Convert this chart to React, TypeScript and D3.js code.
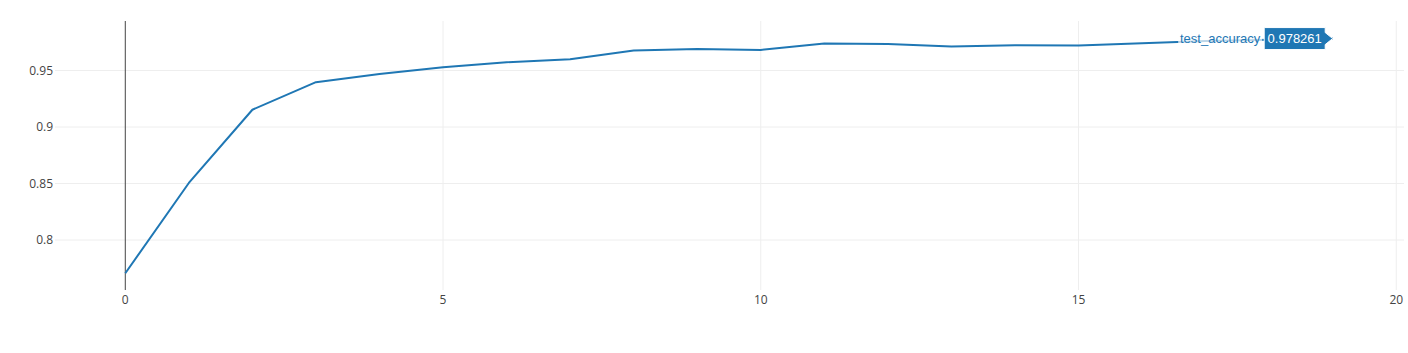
import React from "react";
import * as d3 from "d3";

const epochs = [0, 1, 2, 3, 4, 5, 6, 7, 8, 9, 10, 11, 12, 13, 14, 15, 16, 17, 18, 19];
const testAccuracy = [
  0.7706, 0.8505, 0.9153, 0.9397, 0.9469, 0.9529, 0.9573, 0.96, 0.9676, 0.9691,
  0.9682, 0.9738, 0.9735, 0.9712, 0.9723, 0.9721, 0.9741, 0.976, 0.9772, 0.978261,
];
const xTicks = [0, 5, 10, 15, 20];
const yTicks = [0.8, 0.85, 0.9, 0.95];
const seriesName = "test_accuracy";
const hoverIndex = 19;

const W = 1408;
const H = 353;
const left = 55;
const right = 1404;
const top = 21;
const bottom = 290;

export default function App() {
  const x = d3.scaleLinear().domain([-1.106, 20.122]).range([left, right]);
  const y = d3.scaleLinear().domain([0.7558, 0.9938]).range([bottom, top]);
  const pts = epochs.map((e, i) => [e, testAccuracy[i]] as [number, number]);
  const line = d3
    .line<[number, number]>()
    .x((d) => x(d[0]))
    .y((d) => y(d[1]));

  const hx = x(epochs[hoverIndex]);
  const hy = y(testAccuracy[hoverIndex]);
  const valText = String(testAccuracy[hoverIndex]);
  const boxW = 61;
  const boxH = 22;
  const arrow = 7.5;
  const bx1 = hx - arrow;
  const bx0 = bx1 - boxW;
  const by0 = hy - boxH / 2;
  const by1 = hy + boxH / 2;

  const tickFont = "'Open Sans', 'DejaVu Sans', sans-serif";
  const hoverFont = "Arial, 'Liberation Sans', sans-serif";

  return (
    <div style={{ position: "absolute", left: 0, top: 0 }}>
      <svg width={W} height={H} style={{ display: "block", background: "#fff" }}>
        {/* vertical grid */}
        {xTicks
          .filter((t) => t !== 0)
          .map((t) => (
            <line key={"vx" + t} x1={x(t)} x2={x(t)} y1={top} y2={bottom} stroke="#eee" strokeWidth={1} />
          ))}
        {/* horizontal grid */}
        {yTicks.map((t) => (
          <line key={"hy" + t} x1={left} x2={right} y1={y(t)} y2={y(t)} stroke="#eee" strokeWidth={1} />
        ))}
        {/* zero line */}
        <line x1={x(0)} x2={x(0)} y1={top} y2={bottom} stroke="#444" strokeWidth={1} />
        {/* x tick labels */}
        {xTicks.map((t) => (
          <text
            key={"xt" + t}
            x={x(t)}
            y={bottom + 14}
            textAnchor="middle"
            fontFamily={tickFont}
            fontSize={12}
            fill="#444"
          >
            {String(t)}
          </text>
        ))}
        {/* y tick labels */}
        {yTicks.map((t) => (
          <text
            key={"yt" + t}
            x={left - 2}
            y={y(t)}
            dy="0.35em"
            textAnchor="end"
            fontFamily={tickFont}
            fontSize={12}
            fill="#444"
          >
            {String(t)}
          </text>
        ))}
        {/* data line */}
        <path d={line(pts) || ""} fill="none" stroke="#1f77b4" strokeWidth={2} strokeLinejoin="round" />
        {/* hover name */}
        <rect x={bx0 - 86} y={hy - 8} width={84} height={14} fill="#fff" opacity={0.7} />
        <text
          x={bx0 - 4}
          y={hy}
          dy="0.35em"
          textAnchor="end"
          fontFamily={hoverFont}
          fontSize={13}
          fill="#1f77b4"
        >
          {seriesName}
        </text>
        {/* hover box */}
        <path
          d={`M${hx},${hy} L${bx1},${hy - 6} L${bx1},${by0} L${bx0},${by0} L${bx0},${by1} L${bx1},${by1} L${bx1},${hy + 6} Z`}
          fill="#1f77b4"
          stroke="#fff"
          strokeWidth={1}
        />
        <text
          x={(bx0 + bx1) / 2}
          y={hy}
          dy="0.35em"
          textAnchor="middle"
          fontFamily={hoverFont}
          fontSize={13}
          fill="#fff"
        >
          {valText}
        </text>
      </svg>
    </div>
  );
}
